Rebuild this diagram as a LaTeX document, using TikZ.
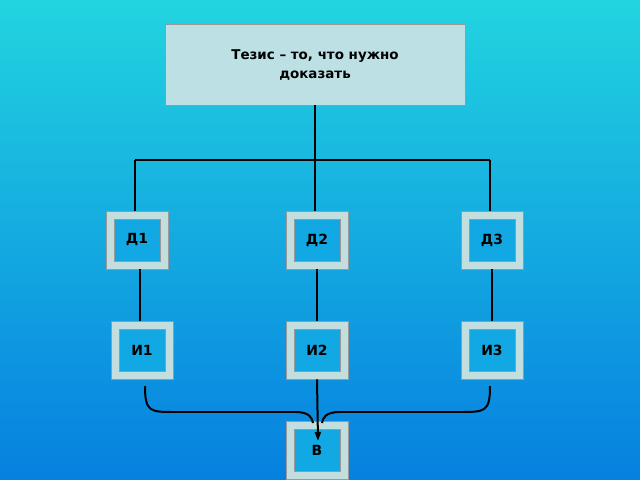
\documentclass[tikz,border=0pt]{standalone}
\usepackage{fontspec}
\setmainfont{DejaVu Sans}
\usetikzlibrary{arrows.meta}
\definecolor{bgtop}{HTML}{22D4E0}
\definecolor{bgbot}{HTML}{0680E0}
\definecolor{frame}{HTML}{C2DEDE}
\definecolor{inner}{HTML}{12A8E4}
\definecolor{titlefill}{HTML}{BCE0E4}
\tikzset{
 lbl/.style={font=\bfseries\fontsize{14}{16}\selectfont, text=black},
 fbox/.style={draw=gray!80, line width=0.6pt, fill=frame, minimum width=62bp, minimum height=58bp, inner sep=0pt},
 ibox/.style={draw=gray!80, line width=0.6pt, fill=inner, minimum width=46bp, minimum height=42bp, inner sep=0pt, lbl},
 conn/.style={line width=2pt, black}
}
\begin{document}
\begin{tikzpicture}[x=1bp,y=-1bp]
\useasboundingbox (0,0) rectangle (640,480);
\shade[top color=bgtop, bottom color=bgbot] (0,0) rectangle (640,480);
\node[draw=gray!80, line width=1pt, fill=titlefill, minimum width=300bp, minimum height=80bp, align=center, lbl, font=\bfseries\fontsize{13.5}{20}\selectfont] (t) at (315,65) {Тезис – то, что нужно\\доказать};
\foreach \n/\x/\y/\txt in {d1/137/240/Д1, d2/317/240/Д2, d3/492/240/Д3, i1/142/350/И1, i2/317/350/И2, i3/492/350/И3, v/317/450/В}{
  \node[fbox] (\n o) at (\x,\y) {};
  \node[ibox] (\n) at (\x,\y) {\txt};
}
\coordinate (j) at (315,160);
\coordinate (jl) at (135,160);
\coordinate (jr) at (490,160);
\draw[conn] (t.south) -- (j);
\draw[conn] (jl) -- (jr);
\draw[conn] (jl) -- (jl |- d1o.north);
\draw[conn] (j) -- (j |- d2o.north);
\draw[conn] (jr) -- (jr |- d3o.north);
\draw[conn] (d1o.south -| 140,0) -- (i1o.north -| 140,0);
\draw[conn] (d2o.south) -- (i2o.north);
\draw[conn] (d3o.south) -- (i3o.north);
\coordinate (bl) at (145,386);
\coordinate (br) at (490,386);
\coordinate (tip) at (318,441);
\draw[conn] (bl) .. controls (145,412) and (150,412) .. (175,412) -- (295,412) .. controls (310,412) and (312,418) .. (313,423);
\draw[conn] (br) .. controls (490,412) and (485,412) .. (460,412) -- (340,412) .. controls (325,412) and (323,418) .. (322,423);
\draw[conn, -{Triangle[length=9bp,width=6bp]}] (i2o.south) -- (tip);
\end{tikzpicture}
\end{document}
